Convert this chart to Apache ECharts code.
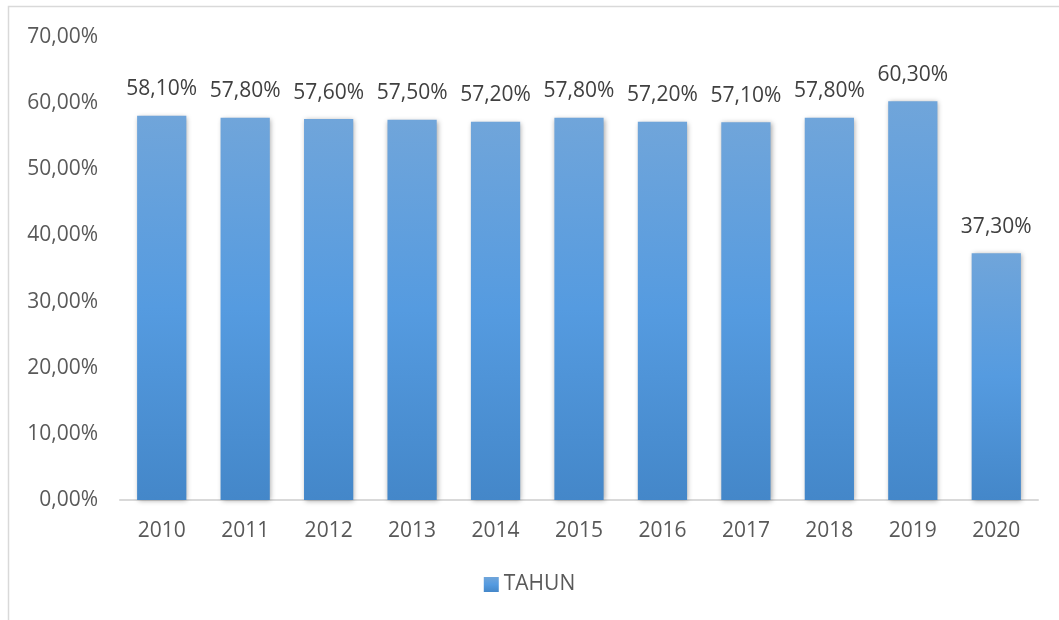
<!DOCTYPE html>
<html>
<head>
<meta charset="utf-8">
<script src="https://cdn.jsdelivr.net/npm/echarts@6/dist/echarts.min.js"></script>
<style>
  html, body { margin: 0; padding: 0; background: #fff; }
  #chart { width: 1059px; height: 620px; }
</style>
</head>
<body>
<div id="chart"></div>
<script>
const years = ["2010", "2011", "2012", "2013", "2014", "2015", "2016", "2017", "2018", "2019", "2020"];
const tahun = [58.1, 57.8, 57.6, 57.5, 57.2, 57.8, 57.2, 57.1, 57.8, 60.3, 37.3];
const seriesName = "TAHUN";

const fmt = (v) => v.toFixed(2).replace(".", ",") + "%";
const font = "'Open Sans', 'Noto Sans', sans-serif";

const barColor = new echarts.graphic.LinearGradient(0, 0, 0, 1, [
  { offset: 0, color: "#70a5da" },
  { offset: 0.5, color: "#559be0" },
  { offset: 1, color: "#4487c9" }
]);

const chart = echarts.init(document.getElementById("chart"), null, { renderer: "canvas" });

chart.setOption({
  animation: false,
  textStyle: { fontFamily: font },
  graphic: [
    {
      type: "rect",
      shape: { x: 8.5, y: 6.5, width: 1200, height: 800 },
      style: { fill: "none", stroke: "#d9d9d9", lineWidth: 1.5 },
      silent: true
    }
  ],
  grid: { left: 120, right: 21, top: 37, bottom: 120 },
  legend: {
    bottom: 20,
    left: "center",
    itemWidth: 15,
    itemHeight: 15,
    itemGap: 6,
    textStyle: { color: "#595959", fontSize: 21, fontFamily: font },
    data: [{ name: seriesName, icon: "rect" }]
  },
  xAxis: {
    type: "category",
    data: years,
    axisLine: { lineStyle: { color: "#d9d9d9", width: 2 } },
    axisTick: { show: false },
    axisLabel: { color: "#595959", fontSize: 21, margin: 21, fontFamily: font }
  },
  yAxis: {
    type: "value",
    min: 0,
    max: 70,
    interval: 10,
    splitLine: { show: false },
    axisLine: { show: false },
    axisTick: { show: false },
    axisLabel: {
      color: "#595959",
      fontSize: 21,
      margin: 22,
      fontFamily: font,
      formatter: (v) => fmt(v)
    }
  },
  series: [
    {
      name: seriesName,
      type: "bar",
      data: tahun,
      barWidth: "59%",
      itemStyle: {
        color: barColor,
        shadowColor: "rgba(0,0,0,0.35)",
        shadowBlur: 5,
        shadowOffsetX: 1,
        shadowOffsetY: 1
      },
      label: {
        show: true,
        position: "top",
        distance: 16,
        color: "#404040",
        fontSize: 21,
        fontFamily: font,
        formatter: (p) => fmt(p.value)
      }
    }
  ]
});
</script>
</body>
</html>
